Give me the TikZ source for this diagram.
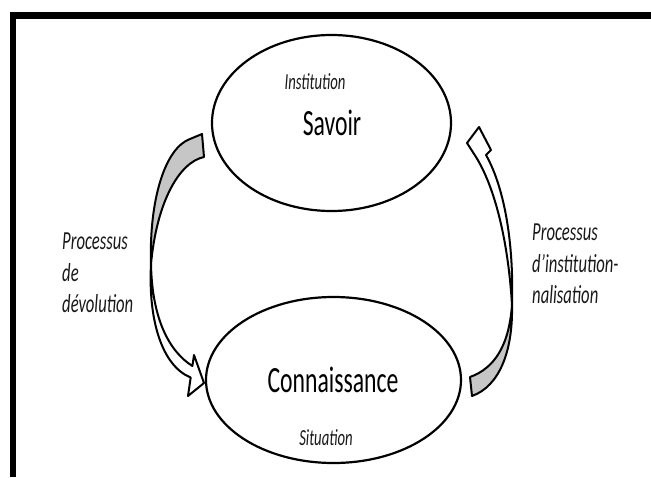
\documentclass[tikz,border=0pt]{standalone}
\usepackage{fontspec}
\setmainfont{Carlito}[FakeStretch=0.64]
\usetikzlibrary{shapes.geometric}

\begin{document}
\begin{tikzpicture}[x=1pt,y=-1pt,
    bulle/.style={draw,ellipse,line width=2.2pt,inner sep=0pt},
    fleche/.style={draw,line width=2pt,line join=round},
    titre/.style={anchor=base,inner sep=0pt,font=\fontsize{37}{40}\selectfont,text=black},
    lieu/.style={anchor=base,inner sep=0pt,font=\fontsize{23}{26}\selectfont\itshape,text=black!90},
    etiquette/.style={anchor=base west,inner sep=0pt,font=\fontsize{26}{30}\selectfont\itshape,text=black!90}]

        \useasboundingbox (0,0) rectangle (651,477);

        % Cadre
        \fill (10,12) rectangle (651,19);
        \fill (10,12) rectangle (16,477);

        % Savoir
        \node[bulle,minimum width=239pt,minimum height=176pt] (savoir) at (331.5,123) {};
        \node[lieu] (institution) at (315,89) {Institution};
        \node[titre] (savoirtxt) at (332,135) {Savoir};

        % Connaissance
        \node[bulle,minimum width=255pt,minimum height=166pt] (connaissance) at (333.5,380) {};
        \node[titre] (connaissancetxt) at (333,392) {Connaissance};
        \node[lieu] (situation) at (326,445) {Situation};

        % Processus de devolution
        \draw[fleche,fill=gray!45] (151,264) .. controls (149,200) and (165,148) .. (190,139)
            -- (202,134) -- (204,157) .. controls (180,162) and (157,200) .. cycle;
        \draw[fleche,fill=white] (151,264) .. controls (152,320) and (170,352) .. (192.4,366)
            -- (194,355) -- (204,383) -- (188,396) -- (190.7,377.5)
            .. controls (162,366) and (148,320) .. cycle;
        \node[etiquette] (dev1) at (62,249) {Processus};
        \node[etiquette] (dev2) at (62,281) {de};
        \node[etiquette] (dev3) at (62,312) {dévolution};

        % Processus d'institutionnalisation
        \draw[fleche,fill=gray!45] (512,305) .. controls (513,350) and (500,386) .. (472,396)
            -- (470,377) .. controls (495,368) and (509,345) .. cycle;
        \draw[fleche,fill=white] (512,305) .. controls (514,238) and (503,185) .. (486,155)
            -- (491,150) -- (479,127) -- (467,143) -- (476,157)
            .. controls (494,186) and (508,238) .. cycle;
        \node[etiquette] (inst1) at (532,240) {Processus};
        \node[etiquette] (inst2) at (532,272) {d’institution-};
        \node[etiquette] (inst3) at (532,303) {nalisation};

    \end{tikzpicture}
\end{document}
